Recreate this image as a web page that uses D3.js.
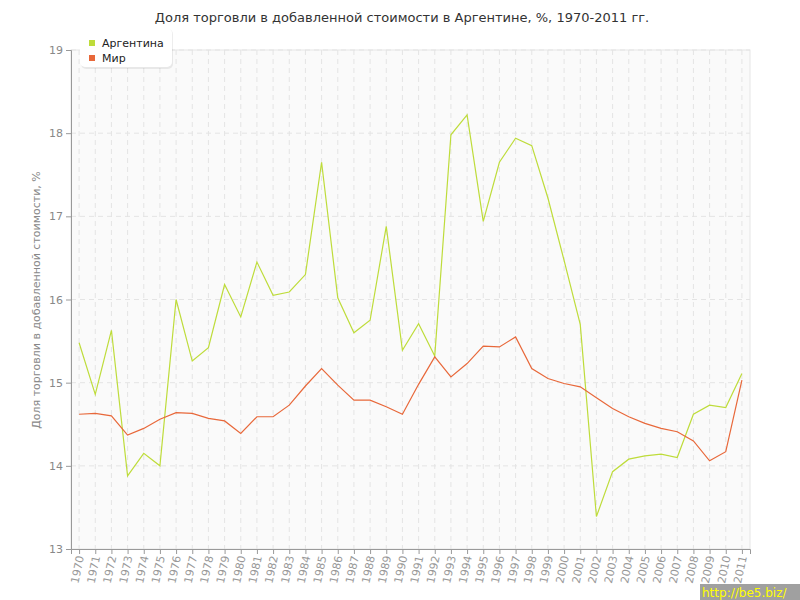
<!DOCTYPE html>
<html>
<head>
<meta charset="utf-8">
<script src="https://cdn.jsdelivr.net/npm/d3@7"></script>
<style>
  body { margin: 0; background: #fff; }
  text { font-family: "DejaVu Sans", Verdana, sans-serif; }
</style>
</head>
<body>
<svg id="chart" width="800" height="600"></svg>
<script>
const years = d3.range(1970, 2012);

const argentina = [15.48, 14.86, 15.63, 13.88, 14.15, 14.0, 16.0, 15.26, 15.42, 16.18,
  15.79, 16.45, 16.05, 16.09, 16.3, 17.65, 16.02, 15.6, 15.75, 16.88,
  15.39, 15.71, 15.32, 17.98, 18.22, 16.94, 17.65, 17.94, 17.85, 17.22,
  16.47, 15.7, 13.39, 13.93, 14.08, 14.12, 14.14, 14.1, 14.62, 14.73,
  14.7, 15.11];

const world = [14.62, 14.63, 14.6, 14.37, 14.45, 14.56, 14.64, 14.63, 14.57, 14.54,
  14.39, 14.59, 14.59, 14.73, 14.96, 15.17, 14.97, 14.79, 14.79, 14.71,
  14.62, 14.98, 15.31, 15.07, 15.23, 15.44, 15.43, 15.55, 15.17, 15.05,
  14.99, 14.95, 14.82, 14.69, 14.59, 14.51, 14.45, 14.41, 14.3, 14.06,
  14.17, 15.03];

const yTicks = [13, 14, 15, 16, 17, 18, 19];

const seriesNames = ['Аргентина', 'Мир'];
const colors = ['#bedc3a', '#e8683a'];

const margin = {top: 50, right: 50, bottom: 51, left: 71},
  width = 800 - margin.left - margin.right,
  height = 600 - margin.top - margin.bottom;

const svg = d3.select('#chart');

// title
svg.append('text')
  .attr('x', 402)
  .attr('y', 22)
  .attr('text-anchor', 'middle')
  .style('font-size', '13px')
  .style('fill', '#333')
  .text('Доля торговли в добавленной стоимости в Аргентине, %, 1970-2011 гг.');

const chart = svg.append('g')
  .attr('transform', `translate(${margin.left},${margin.top})`);

const x = d3.scalePoint()
  .domain(years)
  .range([0, width])
  .padding(0.5);

const y = d3.scaleLinear()
  .domain([13, 19])
  .range([height, 0]);

// plot background
chart.append('rect')
  .attr('width', width)
  .attr('height', height)
  .style('fill', '#fafafa')
  .style('stroke', '#e6e6e6');

// grid
chart.append('g')
  .selectAll('line')
  .data(years)
  .enter().append('line')
  .attr('x1', (d) => x(d))
  .attr('x2', (d) => x(d))
  .attr('y1', 0)
  .attr('y2', height)
  .style('stroke', '#e4e4e4')
  .style('stroke-dasharray', '5,4');

chart.append('g')
  .selectAll('line')
  .data(yTicks.slice(1))
  .enter().append('line')
  .attr('x1', 0)
  .attr('x2', width)
  .attr('y1', (d) => y(d))
  .attr('y2', (d) => y(d))
  .style('stroke', '#e4e4e4')
  .style('stroke-dasharray', '5,4');

// axes
const yAxis = chart.append('g')
  .call(d3.axisLeft(y).tickValues(yTicks).tickFormat(d3.format('d')).tickSize(5).tickPadding(3));
yAxis.select('.domain').style('stroke', '#999');
yAxis.selectAll('.tick line').style('stroke', '#999');
yAxis.selectAll('.tick text').style('fill', '#888').style('font-size', '11px')
  .style('font-family', '"DejaVu Sans", Verdana, sans-serif');

const xAxis = chart.append('g')
  .attr('transform', `translate(0,${height})`)
  .call(d3.axisBottom(x).tickSizeOuter(0).tickSize(5));
xAxis.select('.domain').style('stroke', '#999');
xAxis.selectAll('.tick line').style('stroke', '#999');
xAxis.selectAll('.tick text')
  .style('fill', '#999')
  .style('font-size', '11px')
  .style('font-family', '"DejaVu Sans", Verdana, sans-serif')
  .attr('text-anchor', 'end')
  .attr('dx', '0.3em')
  .attr('dy', '0.35em')
  .attr('transform', 'translate(0,10) rotate(-78)')
  .attr('y', 0)
  .attr('x', 0);

// y label
svg.append('text')
  .attr('transform', 'translate(40,300) rotate(-90)')
  .attr('text-anchor', 'middle')
  .style('font-size', '11px')
  .style('fill', '#888')
  .text('Доля торговли в добавленной стоимости, %');

// lines
const line = d3.line()
  .x((d, i) => x(years[i]))
  .y((d) => y(d));

[argentina, world].forEach((s, i) => {
  chart.append('path')
    .datum(s)
    .attr('d', line)
    .style('fill', 'none')
    .style('stroke', colors[i])
    .style('stroke-width', 1.2);
});

// legend
const legend = svg.append('g').attr('transform', 'translate(80,28)');
legend.append('rect')
  .attr('x', 1).attr('y', 1)
  .attr('width', 92).attr('height', 40)
  .attr('rx', 5)
  .style('fill', '#000').style('opacity', 0.07);
legend.append('rect')
  .attr('width', 92).attr('height', 39)
  .attr('rx', 5)
  .style('fill', '#fff');
seriesNames.forEach((n, i) => {
  legend.append('rect')
    .attr('x', 9).attr('y', 12 + i * 15)
    .attr('width', 6).attr('height', 6)
    .style('fill', colors[i]);
  legend.append('text')
    .attr('x', 22).attr('y', 19 + i * 15)
    .style('font-size', '11px')
    .style('fill', '#222')
    .text(n);
});

// watermark
svg.append('rect')
  .attr('x', 700).attr('y', 584)
  .attr('width', 100).attr('height', 16)
  .style('fill', '#a0a0a0');
svg.append('text')
  .attr('x', 702).attr('y', 597)
  .style('font-size', '12px')
  .style('fill', '#ffff00')
  .text('http://be5.biz/');
</script>
</body>
</html>
